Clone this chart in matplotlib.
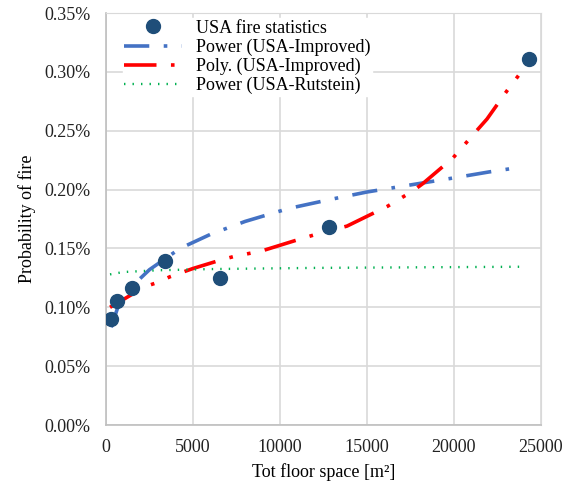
import matplotlib.pyplot as plt
from matplotlib.ticker import FuncFormatter

# --- data ---
# observed points
stat_x = [290, 650, 1500, 3400, 6550, 12800, 24300]
stat_y = [0.090, 0.105, 0.116, 0.139, 0.125, 0.168, 0.311]

# Power (USA-Improved) trend line, sampled along the curve
pow_x = [300, 700, 1500, 2500, 4250, 6000, 8000, 10500, 13000, 15000, 17500, 20000, 22000, 23800]
pow_y = [0.083, 0.101, 0.118, 0.132, 0.150, 0.162, 0.173, 0.184, 0.192, 0.198, 0.204, 0.210, 0.215, 0.219]

# Poly. (USA-Improved) trend line
poly_x = [230, 1380, 2130, 2930, 3680, 5000, 6550, 7300, 8970, 11150, 12300, 13850, 16200, 17650,
          18200, 19950, 21300, 21900, 23050, 23970]
poly_y = [0.100, 0.110, 0.117, 0.121, 0.126, 0.133, 0.140, 0.143, 0.148, 0.158, 0.163, 0.169, 0.186,
          0.199, 0.205, 0.227, 0.250, 0.260, 0.284, 0.302]

# Power (USA-Rutstein) trend line
rut_x = [230, 1000, 3000, 6000, 12000, 18000, 24100]
rut_y = [0.128, 0.1300, 0.1315, 0.1325, 0.1335, 0.1340, 0.1345]

plt.rcParams['font.family'] = ['Liberation Serif', 'DejaVu Serif']

fig = plt.figure(figsize=(5.73, 4.86), dpi=100)
ax = fig.add_axes([0.185, 0.1255, 0.759, 0.8475])

ax.plot(stat_x, stat_y, 'o', color='#1f4e79', markersize=10, zorder=5,
        label='USA fire statistics')
ax.plot(pow_x, pow_y, color='#4472c4', linewidth=2.6, dashes=(7, 4, 1, 4),
        label='Power (USA-Improved)')
ax.plot(poly_x, poly_y, color='#ff0000', linewidth=2.6, dashes=(9, 4, 1, 4, 1, 4),
        label='Poly. (USA-Improved)')
ax.plot(rut_x, rut_y, color='#00b050', linewidth=1.7, dashes=(0.6, 3.0),
        label='Power (USA-Rutstein)')

ax.set_xlim(0, 25000)
ax.set_ylim(0, 0.35)
ax.set_xticks(range(0, 25001, 5000))
ax.set_yticks([i * 0.05 for i in range(8)])
ax.yaxis.set_major_formatter(FuncFormatter(lambda v, p: f'{v:.2f}%'))
ax.tick_params(labelsize=13, length=0, colors='#222222')
ax.tick_params(axis='y', pad=11)
ax.tick_params(axis='x', pad=10)
ax.grid(True, color='#d9d9d9', linewidth=1.2)
ax.set_axisbelow(True)
for side in ['top', 'right']:
    ax.spines[side].set_color('#d9d9d9')
for side in ['left', 'bottom']:
    ax.spines[side].set_color('#bfbfbf')
    ax.spines[side].set_linewidth(1.2)

ax.set_xlabel('Tot floor space [m²]', fontsize=13, labelpad=5)
ax.set_ylabel('Probability of fire', fontsize=13, labelpad=6)

leg = ax.legend(loc='upper left', bbox_to_anchor=(0.03, 0.997), fontsize=13,
                handlelength=3.2, labelspacing=0.1, borderpad=0.1,
                borderaxespad=0.2, handletextpad=0.75, frameon=True, fancybox=False,
                edgecolor='white', framealpha=1.0)

plt.savefig('out.png', dpi=100)
